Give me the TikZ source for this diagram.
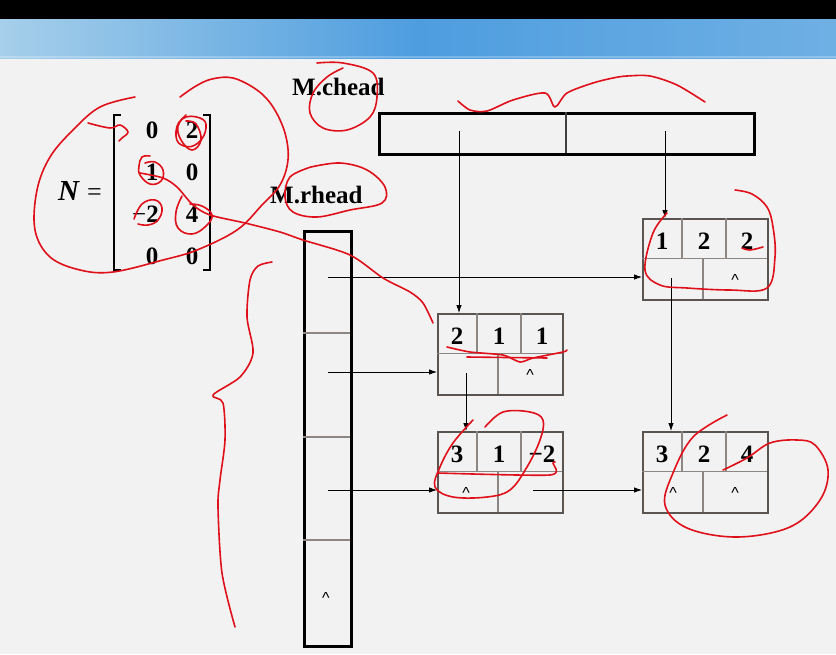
\documentclass[tikz,border=0pt]{standalone}
\usepackage{fontspec}
\setmainfont{Liberation Serif}
\newfontfamily\capfont{Liberation Sans}
\usetikzlibrary{arrows.meta,calc}
\definecolor{bgc}{HTML}{F2F2F2}
\definecolor{bandL}{HTML}{A6CFEA}
\definecolor{bandM}{HTML}{4E9DDF}
\definecolor{bandR}{HTML}{6FB0E4}
\definecolor{boxc}{HTML}{5A5550}
\definecolor{cellc}{HTML}{8C8782}
\definecolor{ink}{HTML}{E0101A}
\tikzset{
  tbox/.style={draw=boxc,line width=2.4pt,minimum width=125pt,minimum height=81pt,anchor=north west,inner sep=0pt},
  cellline/.style={draw=cellc,line width=1.1pt},
  headbox/.style={draw=black,line width=2.8pt},
  headdiv/.style={draw=black!75,line width=1.1pt},
  arr/.style={draw=black,line width=0.8pt,-{Latex[length=8pt,width=5.5pt]}},
  num/.style={font=\bfseries\fontsize{25}{25}\selectfont,anchor=base,inner sep=0pt},
  lab/.style={font=\bfseries\fontsize{25}{25}\selectfont,anchor=base west,inner sep=0pt},
  caret/.style={font=\capfont\fontsize{16}{16}\selectfont,anchor=base,inner sep=0pt},
  red/.style={draw=ink,line width=1.6pt,line cap=round,line join=round}
}
\newcommand\TripleNode[9]{%
  \node[tbox] (#1) at (#2,#3) {};
  \draw[cellline] (#2,#3+40.5) -- (#2+125,#3+40.5);
  \draw[cellline] (#2+40,#3) -- (#2+40,#3+40.5);
  \draw[cellline] (#2+84,#3) -- (#2+84,#3+40.5);
  \draw[cellline] (#2+61,#3+40.5) -- (#2+61,#3+81);
  \node[num] (#1a) at (#2+20,#3+31) {#4};
  \node[num] (#1b) at (#2+62,#3+31) {#5};
  \node[num] (#1c) at (#2+105,#3+31) {#6};
  \node[caret] (#1d) at (#2+#7,#3+67) {#8};
  \node[caret] (#1e) at (#2+93,#3+67) {#9};
}
\begin{document}
\begin{tikzpicture}[x=1pt,y=-1pt]
\useasboundingbox (0,0) rectangle (836,654);
% background
\fill[bgc] (0,0) rectangle (836,654);
\shade[left color=bandL,right color=bandR,middle color=bandM] (0,19) rectangle (836,58);
\fill[white,opacity=0.25] (0,56) rectangle (836,58);
\fill[black] (0,0) rectangle (836,19);

% matrix N
\node[font=\bfseries\itshape\fontsize{29}{29}\selectfont,anchor=base west,inner sep=0pt] (Nlab) at (58,200) {N};
\node[font=\fontsize{26}{26}\selectfont,anchor=base west,inner sep=0pt] (Neq) at (87,200) {=};
\draw[line width=1.4pt] (121,115) -- (114,115) -- (114,270) -- (121,270);
\draw[line width=1.4pt] (203,115) -- (210,115) -- (210,270) -- (203,270);
\node[num] (m11) at (152,138) {0};
\node[num] (m12) at (192,138) {2};
\node[num] (m21) at (152,180) {1};
\node[num] (m22) at (192,180) {0};
\node[num,anchor=base east] (m31) at (159,222) {\fontseries{m}\selectfont\char"2212\fontseries{b}\selectfont 2};
\node[num] (m32) at (192,222) {4};
\node[num] (m41) at (152,264) {0};
\node[num] (m42) at (192,264) {0};

% labels
\node[lab] (chlab) at (292,95) {M.chead};
\node[lab] (rhlab) at (270,203) {M.rhead};

% chead box
\node[headbox,minimum width=375pt,minimum height=41pt,anchor=north west,inner sep=0pt] (chead) at (378,112) {};
\draw[headdiv] (566,112) -- (566,153);
% rhead box
\node[headbox,minimum width=47pt,minimum height=415pt,anchor=north west,inner sep=0pt] (rhead) at (303,230) {};
\draw[headdiv,draw=cellc] (303,333) -- (350,333);
\draw[headdiv,draw=cellc] (303,437) -- (350,437);
\draw[headdiv,draw=cellc] (303,540) -- (350,540);
\node[caret] (rcaret) at (326,603) {\textasciicircum};

% triple nodes
\TripleNode{n122}{642}{218}{1}{2}{2}{30}{}{\textasciicircum}
\TripleNode{n211}{437}{313}{2}{1}{1}{30}{}{\textasciicircum}
\TripleNode{n312}{437}{431}{3}{1}{\char"2212 2}{29}{\textasciicircum}{}
\TripleNode{n324}{642}{431}{3}{2}{4}{31}{\textasciicircum}{\textasciicircum}

% connectors
\coordinate (c1) at (459,131);
\coordinate (c2) at (665,131);
\coordinate (r1) at (328,277);
\coordinate (r2) at (328,372);
\coordinate (r3) at (328,490);
\coordinate (d1) at (671,278);
\coordinate (d2) at (466,373);
\coordinate (h1) at (533,490);
\draw[arr] (c1) -- (c1 |- n211.north);
\draw[arr] (c2) -- (c2 |- n122.north);
\draw[arr] (r1) -- (r1 -| n122.west);
\draw[arr] (r2) -- (r2 -| n211.west);
\draw[arr] (r3) -- (r3 -| n312.west);
\draw[arr] (d1) -- (d1 |- n324.north);
\draw[arr] (d2) -- (d2 |- n312.north);
\draw[arr] (h1) -- (h1 -| n324.west);

% red handwriting
\draw[red] plot[smooth,tension=0.6] coordinates {(135,97) (100,107) (73,130) (50,157) (37,190) (35,230) (50,257) (80,270) (113,272) (163,260) (197,250) (237,230) (262,205) (280,185) (288,160) (285,133) (273,107) (257,90) (233,78) (212,79) (196,86) (180,97)};
\draw[red] plot[smooth,tension=0.6] coordinates {(88,123) (110,128) (120,125) (128,132) (122,138) (119,141)};
% circles in matrix
\draw[red] plot[smooth cycle,tension=0.8] coordinates {(182,119) (200,118) (206,128) (198,143) (184,146) (176,136)};
\draw[red] plot[smooth,tension=0.7] coordinates {(186,115) (178,126) (181,140) (192,150) (201,140) (196,124) (186,121)};
\draw[red] plot[smooth,tension=0.7] coordinates {(150,156) (142,157) (139,166) (140,175) (150,184) (161,181) (163,170) (155,162) (145,163)};
\draw[red] plot[smooth,tension=0.7] coordinates {(134,219) (142,204) (155,200) (162,208) (158,220) (148,225) (138,224)};
\draw[red] plot[smooth,tension=0.7] coordinates {(182,196) (176,212) (178,228) (192,234) (206,226) (212,215) (202,206) (190,204)};
\draw[red] plot[smooth,tension=0.5] coordinates {(140,173) (163,178) (177,187) (193,205) (210,215) (245,223) (280,232) (303,240) (350,255) (383,278) (410,292) (423,303) (433,323)};
% M.chead circle
\draw[red] plot[smooth,tension=0.6] coordinates {(317,63) (343,63) (373,73) (377,97) (370,117) (347,130) (323,128) (310,113) (313,93) (327,77) (343,68)};
% wave above chead
\draw[red] plot[smooth,tension=0.5] coordinates {(458,101) (470,110) (487,111) (513,100) (545,93) (555,107) (567,93) (593,83) (613,78) (627,76) (650,76) (677,85) (705,102)};
% M.rhead circle
\draw[red] plot[smooth,tension=0.6] coordinates {(311,167) (290,177) (285,197) (293,212) (317,217) (350,210) (382,203) (385,187) (367,170) (340,163) (311,167)};
% left brace
\draw[red] plot[smooth,tension=0.5] coordinates {(272,262) (258,266) (250,280) (247,317) (253,353) (240,377) (213,395) (223,403) (225,440) (220,480) (218,507) (222,573) (235,627)};
% node 122 loop
\draw[red] plot[smooth,tension=0.6] coordinates {(667,213) (653,233) (645,270) (660,285) (687,288) (730,290) (767,288) (775,257) (773,227) (767,207) (752,194) (735,190)};
\draw[red] plot[smooth,tension=0.6] coordinates {(742,248) (750,250) (763,247)};
% node 211 underline
\draw[red] plot[smooth,tension=0.4] coordinates {(447,347) (470,352) (503,355) (520,362) (533,358) (563,352) (567,350)};
\draw[red] (467,357) -- (547,358);
% node 312 loop
\draw[red] plot[smooth,tension=0.6] coordinates {(473,420) (453,443) (440,467) (435,487) (453,497) (487,497) (510,490) (527,467) (540,440) (543,420) (530,412) (503,412) (485,427)};
\draw[red] plot[smooth,tension=0.4] coordinates {(438,473) (550,475) (553,463) (555,462)};
% node 324 loop
\draw[red] plot[smooth,tension=0.6] coordinates {(727,415) (693,437) (673,473) (665,505) (687,528) (737,537) (790,527) (820,500) (828,470) (815,445) (797,440) (770,443) (747,458) (723,470)};
\end{tikzpicture}
\end{document}
